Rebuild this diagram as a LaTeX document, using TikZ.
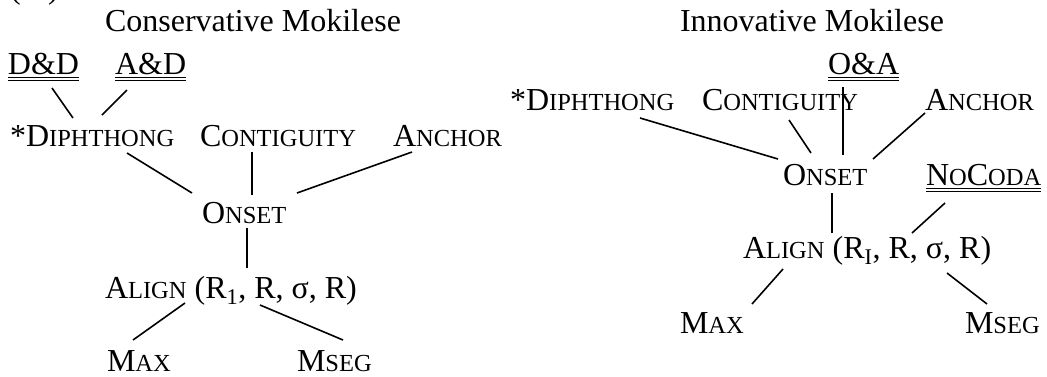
\documentclass[tikz,border=0pt]{standalone}
\usepackage{fontspec}
\setmainfont{Liberation Serif}
\newcommand\smc[1]{{\fontsize{24.5}{29}\selectfont #1}}
\begin{document}
\begin{tikzpicture}[x=1pt,y=-1pt,
  t/.style={inner sep=0pt,outer sep=0pt,anchor=base west,font=\fontsize{32}{38}\selectfont},
  edge/.style={line width=1.6pt},
  ul/.style={line width=1pt}]
\useasboundingbox (0,0) rectangle (1047,376);
% partial label, cut off at the top
\node[t] (pl) at (10,-2) {(};
\node[t] (pr) at (48,-2) {)};
% ---------- left tree ----------
\node[t] (titleL) at (105,31) {Conservative Mokilese};
\node[t] (ddL) at (8,74) {D\&D};
\node[t] (adL) at (115,74) {A\&D};
\node[t] (dipL) at (10,146) {*D\smc{IPHTHONG}};
\node[t] (contL) at (200,146) {C\smc{ONTIGUITY}};
\node[t] (ancL) at (393,146) {A\smc{NCHOR}};
\node[t] (onsL) at (202,223) {O\smc{NSET}};
\node[t] (alnL) at (105,298) {A\smc{LIGN} (R\textsubscript{1}, R, σ, R)};
\node[t] (maxL) at (107,371) {M\smc{AX}};
\node[t] (msegL) at (297,371) {M\smc{SEG}};
% ---------- right tree ----------
\node[t] (titleR) at (680,31) {Innovative Mokilese};
\node[t] (oaR) at (828,74) {O\&A};
\node[t] (dipR) at (510,110) {*D\smc{IPHTHONG}};
\node[t] (contR) at (702,110) {C\smc{ONTIGUITY}};
\node[t] (ancR) at (925,110) {A\smc{NCHOR}};
\node[t] (onsR) at (783,185) {O\smc{NSET}};
\node[t] (ncR) at (926,185) {N\smc{O}C\smc{ODA}};
\node[t] (alnR) at (743,258) {A\smc{LIGN} (R\textsubscript{I}, R, σ, R)};
\node[t] (maxR) at (680,333) {M\smc{AX}};
\node[t] (msegR) at (965,333) {M\smc{SEG}};
% ---------- double underlines ----------
\foreach \n in {ddL,adL,oaR,ncR}{
  \draw[ul] ([yshift=-3pt]\n.base west) -- ([yshift=-3pt]\n.base east);
  \draw[ul] ([yshift=-6pt]\n.base west) -- ([yshift=-6pt]\n.base east);
}
% ---------- connectors, left ----------
\draw[edge] ([shift={(44,14)}]ddL.base west) -- ([shift={(63,-28)}]dipL.base west);
\draw[edge] ([shift={(12,16)}]adL.base west) -- ([shift={(92,-31)}]dipL.base west);
\draw[edge] ([shift={(117,7)}]dipL.base west) -- ([shift={(-10,-30)}]onsL.base west);
\draw[edge] ([shift={(52,6)}]contL.base west) -- ([shift={(50,-28)}]onsL.base west);
\draw[edge] ([shift={(19,6)}]ancL.base west) -- ([shift={(95,-30)}]onsL.base west);
\draw[edge] ([shift={(45,5)}]onsL.base west) -- ([shift={(142,-30)}]alnL.base west);
\draw[edge] ([shift={(80,5)}]alnL.base west) -- ([shift={(26,-31)}]maxL.base west);
\draw[edge] ([shift={(155,7)}]alnL.base west) -- ([shift={(46,-31)}]msegL.base west);
% ---------- connectors, right ----------
\draw[edge] ([shift={(15,13)}]oaR.base west) -- ([shift={(60,-30)}]onsR.base west);
\draw[edge] ([shift={(130,8)}]dipR.base west) -- ([shift={(-5,-26)}]onsR.base west);
\draw[edge] ([shift={(87,10)}]contR.base west) -- ([shift={(28,-32)}]onsR.base west);
\draw[edge] ([shift={(0,3)}]ancR.base west) -- ([shift={(90,-26)}]onsR.base west);
\draw[edge] ([shift={(49,8)}]onsR.base west) -- ([shift={(89,-25)}]alnR.base west);
\draw[edge] ([shift={(19,18)}]ncR.base west) -- ([shift={(169,-25)}]alnR.base west);
\draw[edge] ([shift={(40,11)}]alnR.base west) -- ([shift={(72,-29)}]maxR.base west);
\draw[edge] ([shift={(204,15)}]alnR.base west) -- ([shift={(22,-29)}]msegR.base west);
\end{tikzpicture}
\end{document}
